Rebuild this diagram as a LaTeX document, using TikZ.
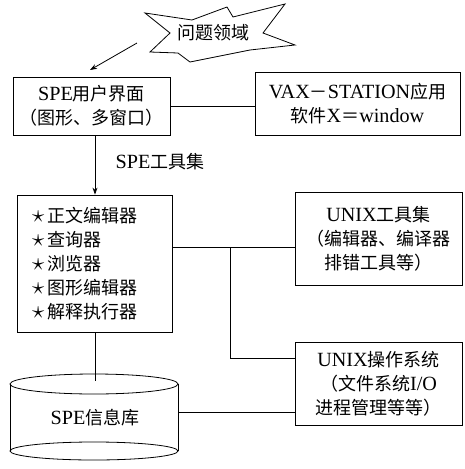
\documentclass[tikz,border=0pt]{standalone}
\usepackage{fontspec}
\setmainfont{Liberation Serif}[Scale=1.12]
\newfontfamily\cjk{Noto Sans CJK SC}
\usetikzlibrary{arrows.meta}
\newcommand\zh[1]{{\cjk #1}}
\newcommand\bstar{{\fontsize{24}{24}\selectfont$\star$}}
\begin{document}
\begin{tikzpicture}[x=1pt,y=-1pt,
  txt/.style={font=\fontsize{18}{24}\selectfont, align=center, inner sep=0pt},
  box/.style={draw, line width=0.8pt, inner sep=0pt, align=center, font=\fontsize{18}{24}\selectfont},
  conn/.style={line width=0.8pt},
  arr/.style={conn, -{Stealth[length=7pt,width=5pt]}}]
\useasboundingbox (0,0) rectangle (465,469);
% star
\draw[line width=0.8pt] (145,13) -- (192,20) -- (227,7) -- (233,17) -- (285,4) -- (263,33) -- (295,45) -- (250,50) -- (190,62) -- (178,53) -- (150,52) -- (170,33) -- cycle;
\node[txt] (prob) at (213,33) {\zh{问题领域}};
\coordinate (starL) at (137,43);
\coordinate (arrEnd) at (90,70);
% boxes
\node[box, minimum width=157pt, minimum height=58pt] (ui) at (91.5,106) {SPE\zh{用户界面}\\\zh{（图形、多窗口）}};
\node[box, minimum width=205pt, minimum height=63pt] (vax) at (357.5,103.5) {VAX\zh{－}STATION\zh{应用}\\\zh{软件}X\zh{＝}window};
\node[box, text width=125pt, inner xsep=15pt, minimum height=137pt, align=left] (tools) at (94.5,263.5)
  {\bstar\,\zh{正文编辑器}\\\bstar\,\zh{查询器}\\\bstar\,\zh{浏览器}\\\bstar\,\zh{图形编辑器}\\\bstar\,\zh{解释执行器}};
\node[box, minimum width=167pt, minimum height=93pt] (utools) at (378.5,238.5) {UNIX\zh{工具集}\\\zh{（编辑器、编译器}\\\zh{排错工具等）}};
\node[box, minimum width=167pt, minimum height=83pt] (os) at (378.5,383.5) {UNIX\zh{操作系统}\\\zh{（文件系统}I/O\\\zh{进程管理等等）}};
% cylinder
\draw[line width=0.8pt] (94,384) ellipse [x radius=84pt, y radius=10pt];
\draw[line width=0.8pt] (94,451) ellipse [x radius=84pt, y radius=9pt];
\draw[line width=0.8pt] (10,384) -- (10,451) (178,384) -- (178,451);
\node[txt] (db) at (95,418) {SPE\zh{信息库}};
\coordinate (dbTop) at (95,381);
\coordinate (dbR) at (178,412);
\node[txt] (toolset) at (160,162) {SPE\zh{工具集}};
% connectors
\draw[arr] (starL) -- (arrEnd);
\draw[conn] (ui.east) -- (vax.west |- ui.east);
\draw[arr] (ui.south -| 95,0) -- (tools.north -| 95,0);
\coordinate (junc) at (230,247);
\draw[conn] (tools.east |- junc) -- (utools.west |- junc);
\draw[conn] (junc) -- (230,358) -- (os.west |- 0,358);
\draw[conn] (tools.south -| dbTop) -- (dbTop);
\draw[conn] (dbR) -- (os.west |- dbR);
\end{tikzpicture}
\end{document}
